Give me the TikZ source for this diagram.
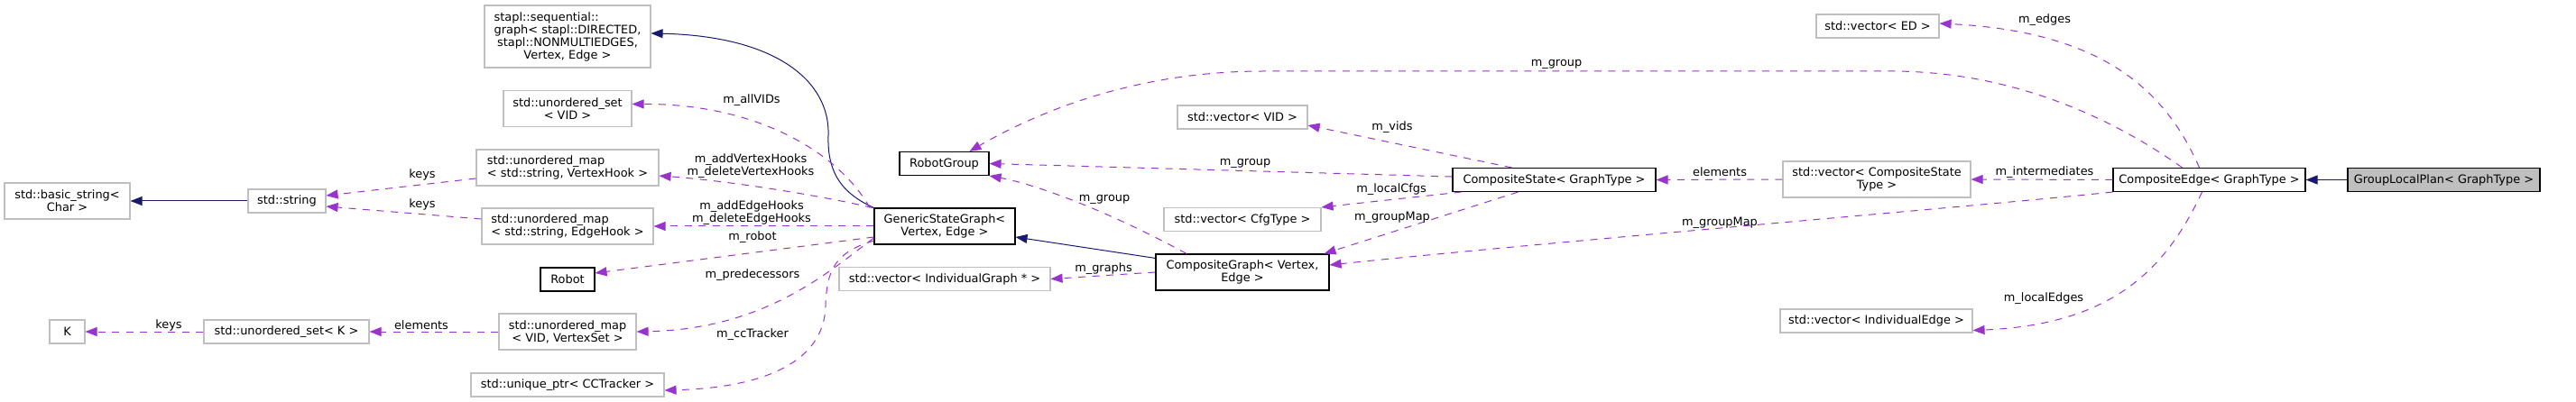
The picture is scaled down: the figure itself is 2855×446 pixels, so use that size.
\documentclass[tikz,border=0pt]{standalone}
\usepackage{fontspec}
\setmainfont{DejaVu Sans}
\usetikzlibrary{arrows.meta, positioning}
\definecolor{usecol}{HTML}{9A32CD}
\definecolor{inhcol}{HTML}{191970}
\definecolor{grey75}{HTML}{BFBFBF}

\begin{document}
\begin{tikzpicture}[
  x=1pt, y=-1pt,
  every node/.style={font=\fontsize{12.9}{14}\selectfont},
  box/.style={rectangle, draw=grey75, line width=1.1pt, fill=white, align=center, inner sep=2pt, minimum height=26pt},
  twoline/.style={minimum height=40pt},
  docbox/.style={box, draw=black},
  use/.style={draw=usecol, line width=1pt, dash pattern=on 8pt off 7.5pt, -{Triangle[length=13pt, width=10pt]}},
  inh/.style={draw=inhcol, line width=1pt, -{Triangle[length=13pt, width=10pt]}},
  lbl/.style={inner sep=0pt, align=center}
]
  \useasboundingbox[fill=white] (0,0) rectangle (2855,446);

  \node[box, minimum width=184pt, minimum height=69pt] (stapl) at (629,40.5) {\rlap{stapl::sequential::}\phantom{graph< stapl::DIRECTED,}\\graph< stapl::DIRECTED,\\stapl::NONMULTIEDGES,\\Vertex, Edge >};
  \node[box, twoline, minimum width=142pt]  (uvid)   at (629,120.5)  {std::unordered\_set\\< VID >};
  \node[box, twoline, minimum width=202pt]  (vhook)  at (629,186)    {\rlap{std::unordered\_map}\phantom{< std::string, VertexHook >}\\< std::string, VertexHook >};
  \node[box, twoline, minimum width=190pt]  (ehook)  at (629,251)    {\rlap{std::unordered\_map}\phantom{< std::string, EdgeHook >}\\< std::string, EdgeHook >};
  \node[docbox, minimum width=60pt]         (robot)  at (629,310)    {Robot};
  \node[box, twoline, minimum width=152pt]  (vset)   at (629,368)    {std::unordered\_map\\< VID, VertexSet >};
  \node[box, minimum width=214pt]           (cctr)   at (629,427)    {std::unique\_ptr< CCTracker >};
  \node[box, twoline, minimum width=139pt]  (bstr)   at (74.5,223)   {std::basic\_string<\\Char >};
  \node[box, minimum width=86pt]            (str)    at (318,223)    {std::string};
  \node[box, minimum width=39pt]            (kk)     at (74.5,368)   {K};
  \node[box, minimum width=183pt]           (uk)     at (317.5,368)  {std::unordered\_set< K >};
  \node[docbox, minimum width=99pt]         (rgroup) at (1046.5,181.5) {RobotGroup};
  \node[docbox, twoline, minimum width=156pt] (gsg)  at (1047,251)   {GenericStateGraph<\\Vertex, Edge >};
  \node[box, minimum width=234pt]           (vig)    at (1047,309.5) {std::vector< IndividualGraph * >};
  \node[docbox, twoline, minimum width=192pt] (cgraph) at (1377,302) {CompositeGraph< Vertex,\\Edge >};
  \node[box, minimum width=144pt]           (vvid)   at (1377,130)   {std::vector< VID >};
  \node[box, minimum width=174pt]           (vcfg)   at (1377,243.5) {std::vector< CfgType >};
  \node[docbox, minimum width=225pt]        (cstate) at (1722.5,199.5) {CompositeState< GraphType >};
  \node[box, twoline, minimum width=208pt]  (vcs)    at (2080,199)   {std::vector< CompositeState\\Type >};
  \node[box, minimum width=136pt]           (ved)    at (2081,29)    {std::vector< ED >};
  \node[box, minimum width=213pt]           (vie)    at (2079.5,356) {std::vector< IndividualEdge >};
  \node[docbox, minimum width=213pt]        (cedge)  at (2448.5,199.5) {CompositeEdge< GraphType >};
  \node[docbox, minimum width=213pt, fill=grey75] (glp) at (2708.5,199.5) {GroupLocalPlan< GraphType >};

  \draw[inh] (gsg.north west) .. controls (927,212) and (917,185) .. (918,150) .. controls (920,90) and (860,40) .. ([yshift=3.5pt]stapl.east);
  \draw[inh] ([yshift=-5pt]cgraph.north west) -- ([yshift=-12pt]gsg.east);
  \foreach \a/\b in {glp/cedge, str/bstr}{
    \draw[inh] (\a.west) -- (\b.east);
  }

  \foreach \a/\b in {gsg/ehook, uk/kk, vset/uk, vcs/cstate, cedge/vcs, cgraph/vig}{
    \draw[use] (\a.west) -- (\b.east);
  }
  \draw[use] ([xshift=-83pt]gsg.north) .. controls (930,170) and (840,115) .. ([yshift=5pt]uvid.east);
  \draw[use] ([xshift=-80pt]gsg.north) .. controls (900,215) and (800,200) .. ([yshift=-9pt]vhook.east);
  \draw[use] ([yshift=-12pt]gsg.west) -- ([yshift=7pt]robot.east);
  \draw[use] ([yshift=-13pt]gsg.west) .. controls (920,300) and (850,365) .. (vset.east);
  \draw[use] ([yshift=-16pt]gsg.west) .. controls (925,280) and (916,300) .. (915,340) .. controls (913,400) and (850,430) .. ([yshift=-6pt]cctr.east);
  \draw[use] ([yshift=-12pt]vhook.west) -- ([yshift=6pt]str.east);
  \draw[use] ([yshift=8pt]ehook.west) -- ([yshift=-6pt]str.east);
  \draw[use] ([xshift=-30pt]cedge.north) .. controls (2340,130) and (2230,80) .. (2100,79) -- (1400,79) .. controls (1250,79) and (1140,130) .. ([xshift=28pt]rgroup.north);
  \draw[use] ([yshift=3.5pt]cstate.west) -- (rgroup.east);
  \draw[use] ([xshift=-62pt]cgraph.north) .. controls (1230,235) and (1150,205) .. (rgroup.south east);
  \draw[use] ([xshift=-47pt]cstate.north) -- ([yshift=-9pt]vvid.east);
  \draw[use] ([xshift=10pt]cstate.south west) -- (vcfg.north east);
  \draw[use] ([xshift=-40pt]cstate.south) -- ([xshift=-6pt]cgraph.north east);
  \draw[use] (cedge.south west) .. controls (2200,228) and (1700,270) .. ([yshift=8pt]cgraph.east);
  \draw[use] ([xshift=-11pt]cedge.north) .. controls (2400,100) and (2330,35) .. ([yshift=3pt]ved.east);
  \draw[use] ([xshift=-8pt]cedge.south) .. controls (2400,300) and (2340,360) .. ([yshift=3pt]vie.south east);

  \node[lbl] (l-allvids)  at (833,111)  {m\_allVIDs};
  \node[lbl] (l-vhooks)   at (832,184)  {m\_addVertexHooks\\m\_deleteVertexHooks};
  \node[lbl] (l-ehooks)   at (833,236)  {m\_addEdgeHooks\\m\_deleteEdgeHooks};
  \node[lbl] (l-robot)    at (834,263)  {m\_robot};
  \node[lbl] (l-pred)     at (834,305)  {m\_predecessors};
  \node[lbl] (l-cctr)     at (834,371)  {m\_ccTracker};
  \node[lbl] (l-keys1)    at (468,194)  {keys};
  \node[lbl] (l-keys2)    at (468,227)  {keys};
  \node[lbl] (l-keys3)    at (187,361)  {keys};
  \node[lbl] (l-elem1)    at (467,361)  {elements};
  \node[lbl] (l-group1)   at (1725,71)  {m\_group};
  \node[lbl] (l-group2)   at (1380,181) {m\_group};
  \node[lbl] (l-group3)   at (1224,221) {m\_group};
  \node[lbl] (l-graphs)   at (1223,298) {m\_graphs};
  \node[lbl] (l-vids)     at (1543,141) {m\_vids};
  \node[lbl] (l-cfgs)     at (1542,210) {m\_localCfgs};
  \node[lbl] (l-gmap1)    at (1543,241) {m\_groupMap};
  \node[lbl] (l-gmap2)    at (1906,247) {m\_groupMap};
  \node[lbl] (l-elem2)    at (1906,191) {elements};
  \node[lbl] (l-inter)    at (2266,191) {m\_intermediates};
  \node[lbl] (l-edges)    at (2266,22)  {m\_edges};
  \node[lbl] (l-ledges)   at (2265,331) {m\_localEdges};
\end{tikzpicture}
\end{document}
